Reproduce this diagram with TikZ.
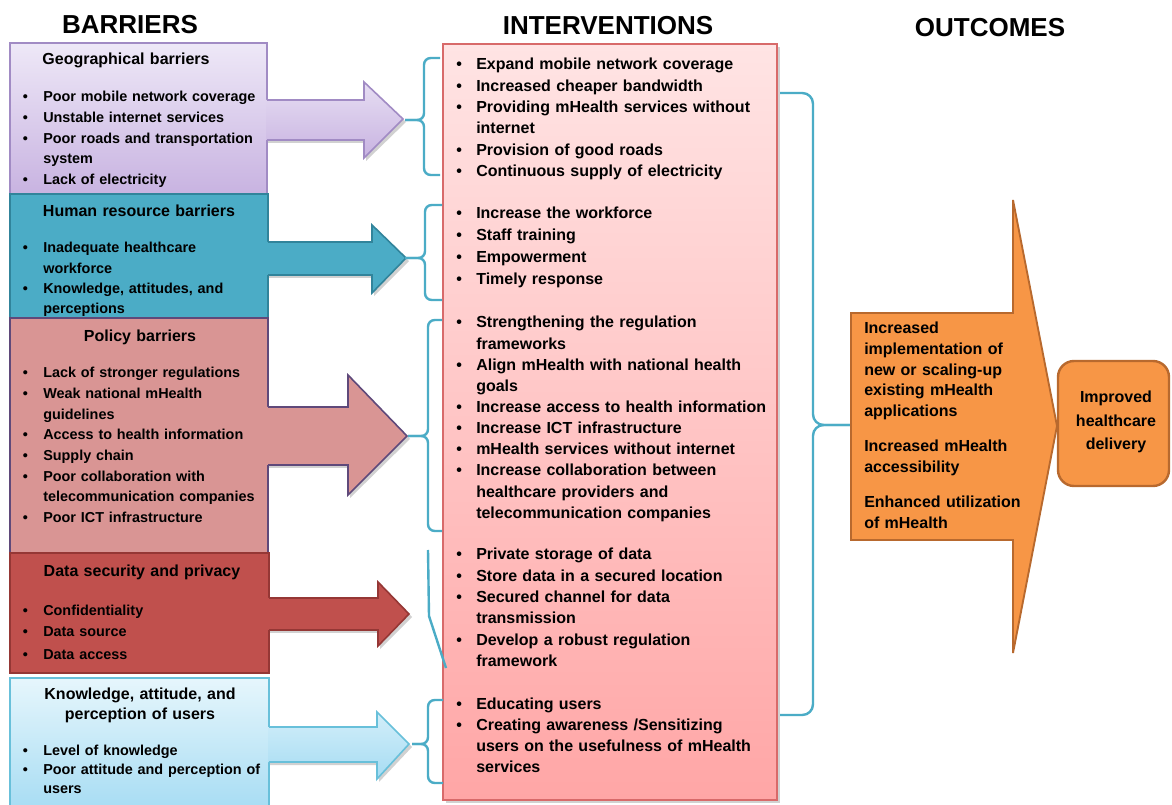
\documentclass[tikz,border=0pt]{standalone}
\usepackage{fontspec}
\setmainfont{Liberation Sans}
\definecolor{geoTop}{HTML}{EEE8F7}
\definecolor{geoBot}{HTML}{C8B3E1}
\definecolor{geoLine}{HTML}{A18BC4}
\definecolor{hrFill}{HTML}{4BACC6}
\definecolor{hrLine}{HTML}{31849B}
\definecolor{polFill}{HTML}{D99594}
\definecolor{polLine}{HTML}{5F497A}
\definecolor{dsFill}{HTML}{C0504D}
\definecolor{dsLine}{HTML}{953735}
\definecolor{kaTop}{HTML}{E6F6FC}
\definecolor{kaBot}{HTML}{A6DCF3}
\definecolor{kaLine}{HTML}{68C0DA}
\definecolor{intTop}{HTML}{FFE4E4}
\definecolor{intBot}{HTML}{FFA6A6}
\definecolor{intLine}{HTML}{D86A6A}
\definecolor{braceC}{HTML}{4BACC6}
\definecolor{orFill}{HTML}{F79646}
\definecolor{orLine}{HTML}{B8692E}
% first item (no \par before it) and following items
\newcommand{\firstitem}[1]{\noindent\hangindent=#1\hangafter=1\makebox[#1][l]{•}}
\newcommand{\nextitem}[1]{\par\noindent\hangindent=#1\hangafter=1\makebox[#1][l]{•}}
\newcommand{\fb}{\firstitem{15.4pt}}
\newcommand{\bb}{\nextitem{15.4pt}}
\newcommand{\fib}{\firstitem{15pt}}
\newcommand{\ib}{\nextitem{15pt}}
\tikzset{
  blist/.style={anchor=base west, inner sep=0pt, text width=225pt, font=\bfseries\fontsize{10.8}{15.5}\selectfont},
  ilist/.style={anchor=base west, inner sep=0pt, text width=300pt, font=\bfseries\fontsize{12}{16}\selectfont},
  olist/.style={anchor=base west, inner sep=0pt, text width=150pt, font=\bfseries\fontsize{12}{15.4}\selectfont},
  btitle/.style={anchor=base, inner sep=0pt, text width=190pt, align=center, font=\bfseries\fontsize{12}{15}\selectfont},
  head/.style={anchor=base, inner sep=0pt, font=\bfseries\fontsize{19.5}{23}\selectfont},
  boxline/.style={line width=1.2pt},
  brace/.style={draw=braceC, line width=1.8pt, rounded corners=5pt},
  shadowc/.style={fill=black, opacity=0.18},
}
\begin{document}
\begin{tikzpicture}[x=0.75pt,y=-0.75pt]
\useasboundingbox (0,0) rectangle (1172,805);
\clip (0,0) rectangle (1172,805);
\fill[white] (0,0) rectangle (1172,805);

% headings
\node[head] (hBar) at (130,34) {BARRIERS};
\node[head] (hInt) at (608,35) {INTERVENTIONS};
\node[head] (hOut) at (990,37) {OUTCOMES};

% ---------- barrier boxes ----------
\shade[top color=geoTop, bottom color=geoBot] (10,43) rectangle (267,194);
\draw[boxline, draw=geoLine] (10,43) rectangle (267,194);
\fill[hrFill] (10,194) rectangle (268,318);
\draw[boxline, draw=hrLine] (10,194) rectangle (268,318);
\fill[polFill] (10,318) rectangle (268,553);
\draw[boxline, draw=polLine] (10,318) rectangle (268,553);
\fill[dsFill] (10,553) rectangle (269,673);
\draw[boxline, draw=dsLine] (10,553) rectangle (269,673);
\shade[top color=kaTop, bottom color=kaBot] (10,678) rectangle (269,812);
\draw[boxline, draw=kaLine] (10,678) rectangle (269,812);

% ---------- barrier arrows ----------
% geographical
\fill[shadowc] (268,102) -- (366,102) -- (366,84) -- (406,122) -- (366,161) -- (366,143) -- (268,143) -- cycle;
\shade[top color=geoTop!80!geoBot, bottom color=geoBot] (266,100) -- (364,100) -- (364,82) -- (403,119) -- (364,158) -- (364,140) -- (266,140) -- cycle;
\draw[boxline, draw=geoLine, line join=miter] (267,100) -- (364,100) -- (364,82) -- (403,119) -- (364,158) -- (364,140) -- (267,140);
% human resource
\fill[shadowc] (269,244) -- (374,244) -- (374,227) -- (409,261) -- (374,296) -- (374,278) -- (269,278) -- cycle;
\fill[hrFill] (267,242) -- (372,242) -- (372,225) -- (406,258) -- (372,293) -- (372,275) -- (267,275) -- cycle;
\draw[boxline, draw=hrLine] (268,242) -- (372,242) -- (372,225) -- (406,258) -- (372,293) -- (372,275) -- (268,275);
% policy
\fill[shadowc] (269,409) -- (350,409) -- (350,377) -- (410,439) -- (350,498) -- (350,468) -- (269,468) -- cycle;
\fill[polFill] (267,407) -- (348,407) -- (348,375) -- (407,436) -- (348,495) -- (348,465) -- (267,465) -- cycle;
\draw[boxline, draw=polLine] (268,407) -- (348,407) -- (348,375) -- (407,436) -- (348,495) -- (348,465) -- (268,465);
% data security
\fill[shadowc] (270,600) -- (380,600) -- (380,584) -- (412,617) -- (380,649) -- (380,633) -- (270,633) -- cycle;
\fill[dsFill] (268,598) -- (378,598) -- (378,582) -- (409,614) -- (378,646) -- (378,630) -- (268,630) -- cycle;
\draw[boxline, draw=dsLine] (269,598) -- (378,598) -- (378,582) -- (409,614) -- (378,646) -- (378,630) -- (269,630);
% knowledge
\fill[shadowc] (270,729) -- (379,729) -- (379,714) -- (412,747) -- (379,782) -- (379,765) -- (270,765) -- cycle;
\shade[top color=kaTop!70!kaBot, bottom color=kaBot] (268,727) -- (377,727) -- (377,712) -- (409,744) -- (377,779) -- (377,762) -- (268,762) -- cycle;
\draw[boxline, draw=kaLine] (269,727) -- (377,727) -- (377,712) -- (409,744) -- (377,779) -- (377,762) -- (269,762);

% ---------- barrier texts ----------
\node[btitle] (tGeo) at (126,65) {Geographical barriers};
\node[blist] (lGeo) at (22.5,102) {\fb Poor mobile network coverage
\bb Unstable internet services
\bb Poor roads and transportation\newline system
\bb Lack of electricity\par};

\node[btitle] (tHr) at (139,217) {Human resource barriers};
\node[blist, font=\bfseries\fontsize{10.8}{15.2}\selectfont] (lHr) at (22.5,253) {\fb Inadequate healthcare\newline workforce
\bb Knowledge, attitudes, and\newline perceptions\par};

\node[btitle] (tPol) at (140,342) {Policy barriers};
\node[blist] (lPol) at (22.5,378) {\fb Lack of stronger regulations
\bb Weak national mHealth\newline guidelines
\bb Access to health information
\bb Supply chain
\bb Poor collaboration with\newline telecommunication companies
\bb Poor ICT infrastructure\par};

\node[btitle] (tDs) at (142,577) {Data security and privacy};
\node[blist, font=\bfseries\fontsize{10.8}{16.5}\selectfont] (lDs) at (22.5,615) {\fb Confidentiality
\bb Data source
\bb Data access\par};

\node[btitle] (tKa) at (140,699) {Knowledge, attitude, and\\perception of users};
\node[blist, font=\bfseries\fontsize{10.8}{14.6}\selectfont] (lKa) at (22.5,755) {\fb Level of knowledge
\bb Poor attitude and perception of\newline users\par};

% ---------- interventions box ----------
\fill[shadowc] (446,47) rectangle (780,803);
\shade[top color=intTop, bottom color=intBot] (443,44) rectangle (777,800);
\draw[line width=0.9pt, draw=intLine] (443,44) rectangle (777,800);

\node[ilist] (i1) at (456,70) {\fib Expand mobile network coverage
\ib Increased cheaper bandwidth
\ib Providing mHealth services without\newline internet
\ib Provision of good roads
\ib Continuous supply of electricity\par};

\node[ilist, font=\bfseries\fontsize{12}{16.4}\selectfont] (i2) at (456,219) {\fib Increase the workforce
\ib Staff training
\ib Empowerment
\ib Timely response\par};

\node[ilist, font=\bfseries\fontsize{12}{15.85}\selectfont] (i3) at (456,328) {\fib Strengthening the regulation\newline frameworks
\ib Align mHealth with national health\newline goals
\ib Increase access to health information
\ib Increase ICT infrastructure
\ib mHealth services without internet
\ib Increase collaboration between\newline healthcare providers and\newline telecommunication companies\par};

\node[ilist] (i4) at (456,560) {\fib Private storage of data
\ib Store data in a secured location
\ib Secured channel for data\newline transmission
\ib Develop a robust regulation\newline framework\par};

\node[ilist, font=\bfseries\fontsize{12}{15.8}\selectfont] (i5) at (456,709) {\fib Educating users
\ib Creating awareness /Sensitizing\newline users on the usefulness of mHealth\newline services\par};

% ---------- left braces ----------
\draw[brace] (440,58) -- (424,58) -- (424,120) -- (405,120);
\draw[brace] (440,175) -- (424,175) -- (424,120) -- (405,120);
\draw[brace] (442,205) -- (425,205) -- (425,258) -- (405,258);
\draw[brace] (442,300) -- (425,300) -- (425,258) -- (405,258);
\draw[brace] (442,320) -- (428,320) -- (428,436) -- (408,436);
\draw[brace] (442,531) -- (428,531) -- (428,436) -- (408,436);
\draw[brace, rounded corners=0pt] (428,550) -- (429,616) -- (446,668);
\draw[brace] (443,700) -- (428,700) -- (428,744) -- (412,744);
\draw[brace] (443,783) -- (428,783) -- (428,744) -- (412,744);

% ---------- right brace ----------
\draw[brace, rounded corners=8pt] (780,93) -- (813,93) -- (813,425) -- (850,425);
\draw[brace, rounded corners=8pt] (780,715) -- (813,715) -- (813,425) -- (850,425);

% ---------- outcomes arrow ----------
\fill[orFill] (851,313) -- (1013,313) -- (1013,200) -- (1057,426) -- (1013,653) -- (1013,540) -- (851,540) -- cycle;
\draw[line width=1.4pt, draw=orLine, line join=miter] (851,313) -- (1013,313) -- (1013,200) -- (1057,426) -- (1013,653) -- (1013,540) -- (851,540) -- cycle;

\node[olist] (o1) at (864,334) {Increased\newline implementation of\newline new or scaling-up\newline existing mHealth\newline applications};
\node[olist] (o2) at (864,452) {Increased mHealth\newline accessibility};
\node[olist] (o3) at (864,508) {Enhanced utilization\newline of mHealth};

% ---------- final box ----------
\draw[fill=orFill, draw=orLine, line width=1.8pt, rounded corners=12pt] (1058,361) rectangle (1169,486);
\node[anchor=base, inner sep=0pt, text width=80pt, align=center, font=\bfseries\fontsize{12}{17.6}\selectfont] (fin) at (1116,403) {Improved\\healthcare\\delivery};
\end{tikzpicture}
\end{document}
